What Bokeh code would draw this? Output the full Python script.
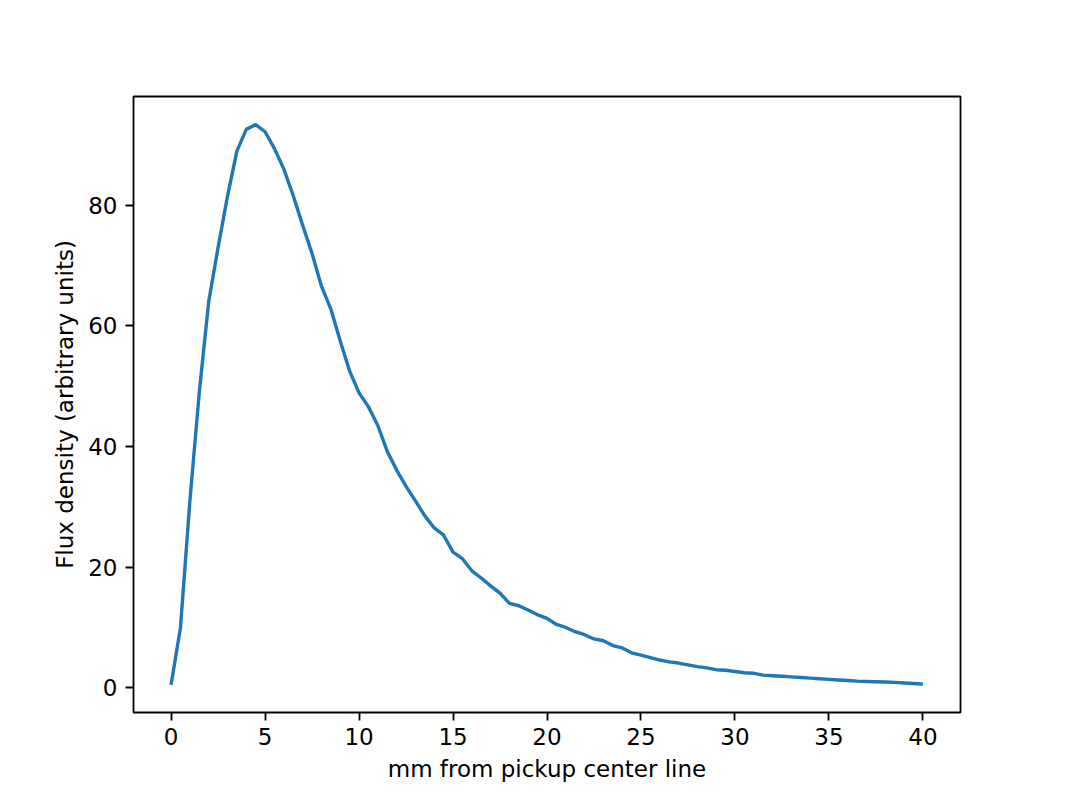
from bokeh.plotting import figure
from bokeh.models import Range1d, FixedTicker
from bokeh.embed import file_html
from bokeh.resources import INLINE

mm = [i * 0.5 for i in range(81)]
flux = [0.5, 10, 31, 49, 64, 73, 81.5, 89, 92.6, 93.4,
        92.2, 89.4, 86, 81.6, 76.7, 72, 66.6, 62.8, 57.5, 52.5,
        48.9, 46.6, 43.5, 39.2, 36.1, 33.4, 31, 28.5, 26.5, 25.3,
        22.5, 21.4, 19.4, 18.2, 16.9, 15.7, 14, 13.6, 12.9, 12.1,
        11.5, 10.5, 10, 9.3, 8.8, 8.1, 7.8, 7, 6.6, 5.8,
        5.4, 5.0, 4.6, 4.3, 4.1, 3.8, 3.5, 3.3, 3.0, 2.9,
        2.7, 2.5, 2.4, 2.1, 2.0, 1.9, 1.8, 1.7, 1.6, 1.5,
        1.4, 1.3, 1.2, 1.1, 1.05, 1.0, 0.95, 0.9, 0.8, 0.7, 0.6]
x_ticks = [0, 5, 10, 15, 20, 25, 30, 35, 40]
y_ticks = [0, 20, 40, 60, 80]

p = figure(width=1051, height=784, output_backend="svg", toolbar_location=None,
           x_range=Range1d(-2, 42), y_range=Range1d(-4.1, 98.05),
           min_border_left=133, min_border_right=91, min_border_top=96, min_border_bottom=72)
p.line(mm, flux, line_color="#1f77b4", line_width=3.4)

p.xgrid.visible = False
p.ygrid.visible = False
p.outline_line_color = "black"
p.outline_line_width = 1.8
p.outline_line_alpha = 1.0

p.xaxis.axis_label = "mm from pickup center line"
p.yaxis.axis_label = "Flux density (arbitrary units)"
p.xaxis.ticker = FixedTicker(ticks=x_ticks)
p.yaxis.ticker = FixedTicker(ticks=y_ticks)
for ax in (p.xaxis[0], p.yaxis[0]):
    ax.axis_line_color = None
    ax.major_tick_in = 0
    ax.major_tick_out = 8
    ax.major_tick_line_color = "black"
    ax.major_tick_line_width = 1.8
    ax.minor_tick_line_color = None
    ax.major_label_text_font = "DejaVu Sans"
    ax.major_label_text_font_size = "23px"
    ax.major_label_text_color = "black"
    ax.axis_label_text_font = "DejaVu Sans"
    ax.axis_label_text_font_size = "23px"
    ax.axis_label_text_font_style = "normal"
    ax.axis_label_text_color = "black"
p.xaxis.major_label_standoff = 7
p.yaxis.major_label_standoff = 8
p.xaxis.axis_label_standoff = 8
p.yaxis.axis_label_standoff = 7

open("out.html", "w").write(file_html(p, INLINE))
